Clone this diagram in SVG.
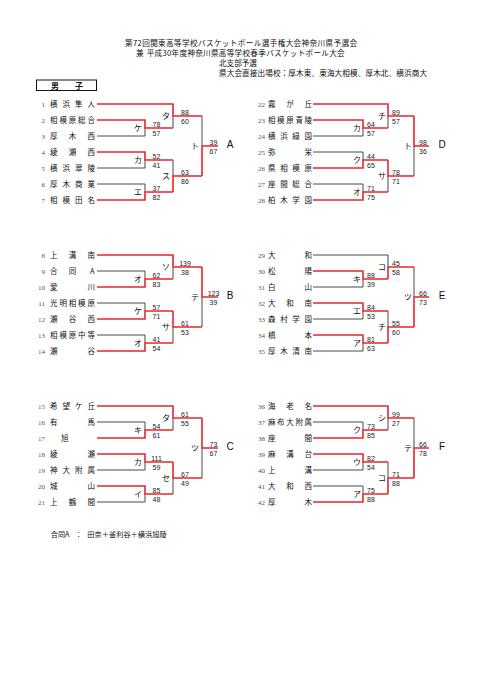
<svg xmlns="http://www.w3.org/2000/svg" width="481" height="680" viewBox="0 0 481 680">
<style>
.r{fill:none;stroke:#e8262d;stroke-width:1.6}
.k{fill:none;stroke:#333;stroke-width:0.9}
.nm{font-family:"Noto Sans CJK JP",sans-serif;font-size:7.5px;fill:#111}
.no{font-family:"Liberation Serif",serif;font-size:7px;fill:#555;text-anchor:end}
.sc{font-family:"Liberation Sans",Arial,sans-serif;font-size:7px;fill:#222;text-anchor:middle}
.lb{font-family:"Noto Sans CJK JP",sans-serif;font-size:8px;fill:#111;text-anchor:middle}
.rg{font-family:"Liberation Sans",Arial,sans-serif;font-size:10px;fill:#111;text-anchor:middle}
.hd{font-family:"Noto Sans CJK JP",sans-serif;font-size:7.6px;fill:#111}
</style>
<rect width="481" height="680" fill="#fff"/>
<g id="header">
<text class="hd" x="125" y="45.5" textLength="232" lengthAdjust="spacing">第72回関東高等学校バスケットボール選手権大会神奈川県予選会</text>
<text class="hd" y="55.5"><tspan x="136">兼</tspan><tspan x="146.7" textLength="198" lengthAdjust="spacing">平成30年度神奈川県高等学校春季バスケットボール大会</tspan></text>
<text class="hd" x="219" y="65.5">北支部予選</text>
<text class="hd" x="219" y="76" textLength="208" lengthAdjust="spacing">県大会直接出場校：厚木東、東海大相模、厚木北、横浜商大</text>
</g>
<g id="section-boys">
<rect x="36.5" y="80" width="60" height="10.5" fill="#fff" stroke="#111" stroke-width="1"/>
<text class="hd" style="font-weight:bold;font-size:8px" x="51" y="88.5">男</text>
<text class="hd" style="font-weight:bold;font-size:8px" x="75" y="88.5">子</text>
</g>
<g id="connectors">
<!-- A -->
<path class="k" d="M97 136H145M97 168H145M97 184H145M145 128V136M145 160V168M145 184V192M173 116V128M173 160V176M202 116V146"/>
<path class="r" d="M97 104H173V116H202M97 120H145V128H173M97 152H145V160H173M97 200H145V192H173M173 192V176H202M202 176V146H218"/>
<!-- B -->
<path class="k" d="M97 271H145M97 303H145M97 335H145M145 271V279M145 303V311M145 335V343M173 267V279M173 327V343M202 297V327"/>
<path class="r" d="M97 255H173V267H202M97 287H145V279H173M97 319H145V311H173M97 351H145V343H173M173 311V327H202M202 267V297H218"/>
<!-- C -->
<path class="k" d="M97 422H145M97 470H145M97 502H145M145 422V430M145 462V470M145 494V502M173 418V430M173 478V494M202 448V478"/>
<path class="r" d="M97 406H173V418H202M97 438H145V430H173M97 454H145V462H173M97 486H145V494H173M173 462V478H202M202 418V448H218"/>
<!-- D -->
<path class="k" d="M313 136H363M313 152H363M313 184H363M363 128V136M363 152V160M363 184V192M388 116V128M388 176V192M414 146V176"/>
<path class="r" d="M313 104H388V116H414M313 120H363V128H388M313 168H363V160H388M313 200H363V192H388M388 160V176H414M414 116V146H429"/>
<!-- E -->
<path class="k" d="M313 255H388V267M313 287H363M313 319H363M313 351H363M363 279V287M363 311V319M363 343V351M388 311V327M414 267V297"/>
<path class="r" d="M313 271H363V279H388M313 303H363V311H388M313 335H363V343H388M388 279V267H414M388 343V327H414M414 327V297H429"/>
<!-- F -->
<path class="k" d="M313 422H363M313 470H363M313 486H363M363 422V430M363 462V470M363 486V494M388 418V430M388 462V478M414 418V448"/>
<path class="r" d="M313 406H388V418H414M313 438H363V430H388M313 454H363V462H388M313 502H363V494H388M388 494V478H414M414 478V448H429"/>
</g>
<g id="teams-A">
<g id="t1"><text class="no" x="45" y="106.5">1</text><text class="nm" x="50 62.5 75 87.5" y="106.7">横浜隼人</text></g>
<g id="t2"><text class="no" x="45" y="122.5">2</text><text class="nm" x="50 59.4 68.8 78.1 87.5" y="122.7">相模原総合</text></g>
<g id="t3"><text class="no" x="45" y="138.5">3</text><text class="nm" x="50 68.8 87.5" y="138.7">厚木西</text></g>
<g id="t4"><text class="no" x="45" y="154.5">4</text><text class="nm" x="50 68.8 87.5" y="154.7">綾瀬西</text></g>
<g id="t5"><text class="no" x="45" y="170.5">5</text><text class="nm" x="50 62.5 75 87.5" y="170.7">横浜翠陵</text></g>
<g id="t6"><text class="no" x="45" y="186.5">6</text><text class="nm" x="50 62.5 75 87.5" y="186.7">厚木商業</text></g>
<g id="t7"><text class="no" x="45" y="202.5">7</text><text class="nm" x="50 62.5 75 87.5" y="202.7">相模田名</text></g>
</g>
<g id="teams-B">
<g id="t8"><text class="no" x="45" y="257.5">8</text><text class="nm" x="50 68.8 87.5" y="257.7">上溝南</text></g>
<g id="t9"><text class="no" x="45" y="273.5">9</text><text class="nm" x="50 68.8 90" y="273.7">合同A</text></g>
<g id="t10"><text class="no" x="45" y="289.5">10</text><text class="nm" x="50 87.5" y="289.7">愛川</text></g>
<g id="t11"><text class="no" x="45" y="305.5">11</text><text class="nm" x="50 59.4 68.8 78.1 87.5" y="305.7">光明相模原</text></g>
<g id="t12"><text class="no" x="45" y="321.5">12</text><text class="nm" x="50 68.8 87.5" y="321.7">瀬谷西</text></g>
<g id="t13"><text class="no" x="45" y="337.5">13</text><text class="nm" x="50 59.4 68.8 78.1 87.5" y="337.7">相模原中等</text></g>
<g id="t14"><text class="no" x="45" y="353.5">14</text><text class="nm" x="50 87.5" y="353.7">瀬谷</text></g>
</g>
<g id="teams-C">
<g id="t15"><text class="no" x="45" y="408.5">15</text><text class="nm" x="50 62.5 75 87.5" y="408.7">希望ケ丘</text></g>
<g id="t16"><text class="no" x="45" y="424.5">16</text><text class="nm" x="50 87.5" y="424.7">有馬</text></g>
<g id="t17"><text class="no" x="45" y="440.5">17</text><text class="nm" x="61" y="440.7">旭</text></g>
<g id="t18"><text class="no" x="45" y="456.5">18</text><text class="nm" x="50 87.5" y="456.7">綾瀬</text></g>
<g id="t19"><text class="no" x="45" y="472.5">19</text><text class="nm" x="50 62.5 75 87.5" y="472.7">神大附属</text></g>
<g id="t20"><text class="no" x="45" y="488.5">20</text><text class="nm" x="50 87.5" y="488.7">城山</text></g>
<g id="t21"><text class="no" x="45" y="504.5">21</text><text class="nm" x="50 68.8 87.5" y="504.7">上鶴間</text></g>
</g>
<g id="teams-D">
<g id="t22"><text class="no" x="265" y="106.5">22</text><text class="nm" x="268 286.3 304.5" y="106.7">霧が丘</text></g>
<g id="t23"><text class="no" x="265" y="122.5">23</text><text class="nm" x="268 277.1 286.3 295.4 304.5" y="122.7">相模原青陵</text></g>
<g id="t24"><text class="no" x="265" y="138.5">24</text><text class="nm" x="268 280.2 292.3 304.5" y="138.7">横浜緑園</text></g>
<g id="t25"><text class="no" x="265" y="154.5">25</text><text class="nm" x="268 304.5" y="154.7">弥栄</text></g>
<g id="t26"><text class="no" x="265" y="170.5">26</text><text class="nm" x="268 280.2 292.3 304.5" y="170.7">県相模原</text></g>
<g id="t27"><text class="no" x="265" y="186.5">27</text><text class="nm" x="268 280.2 292.3 304.5" y="186.7">座間総合</text></g>
<g id="t28"><text class="no" x="265" y="202.5">28</text><text class="nm" x="268 280.2 292.3 304.5" y="202.7">柏木学園</text></g>
</g>
<g id="teams-E">
<g id="t29"><text class="no" x="265" y="257.5">29</text><text class="nm" x="268 304.5" y="257.7">大和</text></g>
<g id="t30"><text class="no" x="265" y="273.5">30</text><text class="nm" x="268 304.5" y="273.7">松陽</text></g>
<g id="t31"><text class="no" x="265" y="289.5">31</text><text class="nm" x="268 304.5" y="289.7">白山</text></g>
<g id="t32"><text class="no" x="265" y="305.5">32</text><text class="nm" x="268 286.3 304.5" y="305.7">大和南</text></g>
<g id="t33"><text class="no" x="265" y="321.5">33</text><text class="nm" x="268 280.2 292.3 304.5" y="321.7">森村学園</text></g>
<g id="t34"><text class="no" x="265" y="337.5">34</text><text class="nm" x="268 304.5" y="337.7">橋本</text></g>
<g id="t35"><text class="no" x="265" y="353.5">35</text><text class="nm" x="268 280.2 292.3 304.5" y="353.7">厚木清南</text></g>
</g>
<g id="teams-F">
<g id="t36"><text class="no" x="265" y="408.5">36</text><text class="nm" x="268 286.3 304.5" y="408.7">海老名</text></g>
<g id="t37"><text class="no" x="265" y="424.5">37</text><text class="nm" x="268 277.1 286.3 295.4 304.5" y="424.7">麻布大附属</text></g>
<g id="t38"><text class="no" x="265" y="440.5">38</text><text class="nm" x="268 304.5" y="440.7">座間</text></g>
<g id="t39"><text class="no" x="265" y="456.5">39</text><text class="nm" x="268 286.3 304.5" y="456.7">麻溝台</text></g>
<g id="t40"><text class="no" x="265" y="472.5">40</text><text class="nm" x="268 304.5" y="472.7">上溝</text></g>
<g id="t41"><text class="no" x="265" y="488.5">41</text><text class="nm" x="268 286.3 304.5" y="488.7">大和西</text></g>
<g id="t42"><text class="no" x="265" y="504.5">42</text><text class="nm" x="268 304.5" y="504.7">厚木</text></g>
</g>
<g id="matches-A">
<g id="A-m1"><text class="lb" x="138" y="130.5">ケ</text><text class="sc" x="156.5" y="126.5">78</text><text class="sc" x="156.5" y="135.5">57</text></g>
<g id="A-m2"><text class="lb" x="138" y="162.5">カ</text><text class="sc" x="156.5" y="158.5">52</text><text class="sc" x="156.5" y="167.5">41</text></g>
<g id="A-m3"><text class="lb" x="138" y="194.5">エ</text><text class="sc" x="156.5" y="190.5">37</text><text class="sc" x="156.5" y="199.5">82</text></g>
<g id="A-m4"><text class="lb" x="166" y="118.5">タ</text><text class="sc" x="185" y="114.5">88</text><text class="sc" x="185" y="123.5">60</text></g>
<g id="A-m5"><text class="lb" x="166" y="178.5">ス</text><text class="sc" x="185" y="174.5">63</text><text class="sc" x="185" y="183.5">86</text></g>
<g id="A-m6"><text class="lb" x="195" y="148.5">ト</text><text class="sc" x="213.5" y="144.5">39</text><text class="sc" x="213.5" y="153.5">67</text></g>
<text id="region-A" class="rg" x="230" y="148">A</text>
</g>
<g id="matches-B">
<g id="B-m1"><text class="lb" x="138" y="281.5">オ</text><text class="sc" x="156.5" y="277.5">62</text><text class="sc" x="156.5" y="286.5">83</text></g>
<g id="B-m2"><text class="lb" x="138" y="313.5">ケ</text><text class="sc" x="156.5" y="309.5">57</text><text class="sc" x="156.5" y="318.5">71</text></g>
<g id="B-m3"><text class="lb" x="138" y="345.5">オ</text><text class="sc" x="156.5" y="341.5">41</text><text class="sc" x="156.5" y="350.5">54</text></g>
<g id="B-m4"><text class="lb" x="166" y="269.5">ソ</text><text class="sc" x="185" y="265.5">139</text><text class="sc" x="185" y="274.5">38</text></g>
<g id="B-m5"><text class="lb" x="166" y="329.5">サ</text><text class="sc" x="185" y="325.5">61</text><text class="sc" x="185" y="334.5">53</text></g>
<g id="B-m6"><text class="lb" x="195" y="299.5">テ</text><text class="sc" x="213.5" y="295.5">123</text><text class="sc" x="213.5" y="304.5">39</text></g>
<text id="region-B" class="rg" x="230" y="299">B</text>
</g>
<g id="matches-C">
<g id="C-m1"><text class="lb" x="138" y="432.5">キ</text><text class="sc" x="156.5" y="428.5">54</text><text class="sc" x="156.5" y="437.5">61</text></g>
<g id="C-m2"><text class="lb" x="138" y="464.5">カ</text><text class="sc" x="156.5" y="460.5">111</text><text class="sc" x="156.5" y="469.5">59</text></g>
<g id="C-m3"><text class="lb" x="138" y="496.5">イ</text><text class="sc" x="156.5" y="492.5">85</text><text class="sc" x="156.5" y="501.5">48</text></g>
<g id="C-m4"><text class="lb" x="166" y="420.5">タ</text><text class="sc" x="185" y="416.5">61</text><text class="sc" x="185" y="425.5">55</text></g>
<g id="C-m5"><text class="lb" x="166" y="480.5">セ</text><text class="sc" x="185" y="476.5">67</text><text class="sc" x="185" y="485.5">49</text></g>
<g id="C-m6"><text class="lb" x="195" y="450.5">ツ</text><text class="sc" x="213.5" y="446.5">73</text><text class="sc" x="213.5" y="455.5">67</text></g>
<text id="region-C" class="rg" x="230" y="450">C</text>
</g>
<g id="matches-D">
<g id="D-m1"><text class="lb" x="357" y="130.5">カ</text><text class="sc" x="371" y="126.5">64</text><text class="sc" x="371" y="135.5">57</text></g>
<g id="D-m2"><text class="lb" x="357" y="162.5">ク</text><text class="sc" x="371" y="158.5">44</text><text class="sc" x="371" y="167.5">65</text></g>
<g id="D-m3"><text class="lb" x="357" y="194.5">オ</text><text class="sc" x="371" y="190.5">71</text><text class="sc" x="371" y="199.5">75</text></g>
<g id="D-m4"><text class="lb" x="382" y="118.5">チ</text><text class="sc" x="396" y="114.5">89</text><text class="sc" x="396" y="123.5">57</text></g>
<g id="D-m5"><text class="lb" x="382" y="178.5">サ</text><text class="sc" x="396" y="174.5">78</text><text class="sc" x="396" y="183.5">71</text></g>
<g id="D-m6"><text class="lb" x="408" y="148.5">ト</text><text class="sc" x="423" y="144.5">98</text><text class="sc" x="423" y="153.5">36</text></g>
<text id="region-D" class="rg" x="442" y="148">D</text>
</g>
<g id="matches-E">
<g id="E-m1"><text class="lb" x="357" y="281.5">キ</text><text class="sc" x="371" y="277.5">88</text><text class="sc" x="371" y="286.5">39</text></g>
<g id="E-m2"><text class="lb" x="357" y="313.5">エ</text><text class="sc" x="371" y="309.5">84</text><text class="sc" x="371" y="318.5">53</text></g>
<g id="E-m3"><text class="lb" x="357" y="345.5">ア</text><text class="sc" x="371" y="341.5">81</text><text class="sc" x="371" y="350.5">63</text></g>
<g id="E-m4"><text class="lb" x="382" y="269.5">コ</text><text class="sc" x="396" y="265.5">45</text><text class="sc" x="396" y="274.5">58</text></g>
<g id="E-m5"><text class="lb" x="382" y="329.5">チ</text><text class="sc" x="396" y="325.5">55</text><text class="sc" x="396" y="334.5">60</text></g>
<g id="E-m6"><text class="lb" x="408" y="299.5">ツ</text><text class="sc" x="423" y="295.5">66</text><text class="sc" x="423" y="304.5">73</text></g>
<text id="region-E" class="rg" x="442" y="299">E</text>
</g>
<g id="matches-F">
<g id="F-m1"><text class="lb" x="357" y="432.5">ク</text><text class="sc" x="371" y="428.5">73</text><text class="sc" x="371" y="437.5">85</text></g>
<g id="F-m2"><text class="lb" x="357" y="464.5">ウ</text><text class="sc" x="371" y="460.5">82</text><text class="sc" x="371" y="469.5">54</text></g>
<g id="F-m3"><text class="lb" x="357" y="496.5">ア</text><text class="sc" x="371" y="492.5">75</text><text class="sc" x="371" y="501.5">88</text></g>
<g id="F-m4"><text class="lb" x="382" y="420.5">シ</text><text class="sc" x="396" y="416.5">99</text><text class="sc" x="396" y="425.5">27</text></g>
<g id="F-m5"><text class="lb" x="382" y="480.5">コ</text><text class="sc" x="396" y="476.5">71</text><text class="sc" x="396" y="485.5">88</text></g>
<g id="F-m6"><text class="lb" x="408" y="450.5">テ</text><text class="sc" x="423" y="446.5">66</text><text class="sc" x="423" y="455.5">78</text></g>
<text id="region-F" class="rg" x="442" y="450">F</text>
</g>
<g id="footer">
<text class="hd" style="font-size:7.2px" y="536.5"><tspan x="50.7">合同A</tspan><tspan x="75">：</tspan><tspan x="87.3" textLength="79.4" lengthAdjust="spacing">田奈＋釜利谷＋横浜旭陵</tspan></text>
</g>
</svg>
